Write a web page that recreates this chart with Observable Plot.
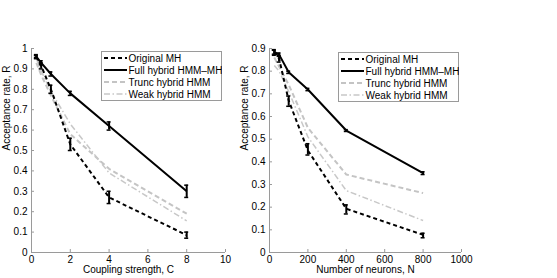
<!DOCTYPE html>
<html><head><meta charset="utf-8">
<script src="https://cdn.jsdelivr.net/npm/d3@7"></script>
<script src="https://cdn.jsdelivr.net/npm/@observablehq/plot@0.6"></script>
<style>
body{margin:0;background:#fff}
#wrap{position:relative;width:557px;height:278px;overflow:hidden;font-family:"Liberation Sans",Arial,Helvetica,sans-serif}
.panel{position:absolute;top:0}
.legend{position:absolute}
</style></head>
<body><div id="wrap"></div>
<script>
// ---- data ----
const seriesNames = ["Original MH", "Full hybrid HMM–MH", "Trunc hybrid HMM", "Weak hybrid HMM"];

const couplingC = [0.25, 0.5, 1, 2, 4, 8];
const leftOriginal = [0.96, 0.915, 0.80, 0.53, 0.27, 0.085];
const leftFull     = [0.96, 0.93, 0.875, 0.78, 0.62, 0.30];
const leftTrunc    = [0.93, 0.87, 0.77, 0.58, 0.41, 0.19];
const leftWeak     = [0.95, 0.89, 0.79, 0.63, 0.39, 0.155];
const leftOriginalLo = [0.95, 0.90, 0.78, 0.50, 0.24, 0.07];
const leftOriginalHi = [0.97, 0.93, 0.82, 0.56, 0.30, 0.10];
const leftFullLo     = [0.955, 0.92, 0.865, 0.77, 0.60, 0.27];
const leftFullHi     = [0.965, 0.94, 0.885, 0.79, 0.64, 0.33];

const neuronsN = [25, 50, 100, 200, 400, 800];
const rightOriginal = [0.885, 0.855, 0.67, 0.45, 0.193, 0.078];
const rightFull     = [0.885, 0.873, 0.795, 0.719, 0.538, 0.35];
const rightTrunc    = [0.86, 0.82, 0.74, 0.55, 0.344, 0.262];
const rightWeak     = [0.825, 0.80, 0.71, 0.51, 0.273, 0.141];
const rightOriginalLo = [0.87, 0.84, 0.645, 0.43, 0.17, 0.065];
const rightOriginalHi = [0.895, 0.87, 0.69, 0.48, 0.21, 0.085];
const rightFullLo     = [0.875, 0.865, 0.79, 0.714, 0.534, 0.344];
const rightFullHi     = [0.892, 0.88, 0.80, 0.724, 0.542, 0.356];

const leftXTicks = [0, 2, 4, 6, 8, 10];
const leftYTicks = [0, 0.1, 0.2, 0.3, 0.4, 0.5, 0.6, 0.7, 0.8, 0.9, 1];
const rightXTicks = [0, 200, 400, 600, 800, 1000];
const rightYTicks = [0, 0.1, 0.2, 0.3, 0.4, 0.5, 0.6, 0.7, 0.8, 0.9];

const yLabel = "Acceptance rate, R";
const leftXLabel = "Coupling strength, C";
const rightXLabel = "Number of neurons, N";

// ---- styles ----
const styles = [
  {stroke: "#000", width: 2, dash: "4,3"},
  {stroke: "#000", width: 2, dash: null},
  {stroke: "#c4c4c4", width: 2, dash: "5,3"},
  {stroke: "#c8c8c8", width: 1.5, dash: "6,2.5,1.5,2.5"}
];
const axisGray = "#9a9a9a";
const font = "'Liberation Sans', Arial, Helvetica, sans-serif";

function panel(cfg) {
  const marks = [];
  const [x0] = cfg.xDomain, [y0] = cfg.yDomain;
  // axes lines
  marks.push(Plot.ruleY([y0], {stroke: axisGray, strokeWidth: 1}));
  marks.push(Plot.ruleX([x0], {stroke: axisGray, strokeWidth: 1}));
  // inward ticks
  marks.push(Plot.ruleX(cfg.xTicks, {x: d => d, y1: y0, y2: y0, insetTop: -3, stroke: axisGray}));
  marks.push(Plot.ruleY(cfg.yTicks, {y: d => d, x1: x0, x2: x0, insetRight: -3, stroke: axisGray}));
  marks.push(Plot.axisX(cfg.xTicks, {label: null, tickSize: 0, tickPadding: 3, tickFormat: d => String(d), fontSize: 10, fill: "#000"}));
  marks.push(Plot.axisY(cfg.yTicks, {label: null, tickSize: 0, tickPadding: 4, tickFormat: d => String(d), fontSize: 10, fill: "#000"}));
  // lines (draw gray first, black on top)
  [2, 3, 0, 1].forEach(i => {
    const rows = cfg.xs.map((x, j) => ({x, y: cfg.series[i][j]}));
    marks.push(Plot.line(rows, {x: "x", y: "y", stroke: styles[i].stroke, strokeWidth: styles[i].width,
      strokeDasharray: styles[i].dash, strokeLinejoin: "miter", strokeLinecap: "butt"}));
  });
  // error bars
  cfg.errs.forEach(([lo, hi]) => {
    const rows = cfg.xs.map((x, j) => ({x, lo: lo[j], hi: hi[j]}));
    marks.push(Plot.ruleX(rows, {x: "x", y1: "lo", y2: "hi", stroke: "#000", strokeWidth: 2}));
    marks.push(Plot.ruleY(rows, {y: "lo", x1: "x", x2: "x", insetLeft: -2, insetRight: -2, stroke: "#000", strokeWidth: 1.5}));
    marks.push(Plot.ruleY(rows, {y: "hi", x1: "x", x2: "x", insetLeft: -2, insetRight: -2, stroke: "#000", strokeWidth: 1.5}));
  });
  // axis labels
  marks.push(Plot.text([cfg.xLabel], {text: d => d, frameAnchor: "bottom", dy: 20, fontSize: 10, fill: "#000"}));
  marks.push(Plot.text([yLabel], {text: d => d, frameAnchor: "left", rotate: -90, dx: -25, fontSize: 10, fill: "#000"}));

  const svg = Plot.plot({
    width: cfg.width, height: 278,
    marginLeft: cfg.marginLeft, marginRight: cfg.marginRight, marginTop: 48, marginBottom: 26,
    x: {domain: cfg.xDomain}, y: {domain: cfg.yDomain},
    style: {fontFamily: font, fontSize: "10px", color: "#000", background: "transparent", overflow: "visible"},
    marks
  });
  svg.classList.add("panel");
  svg.style.left = cfg.left + "px";
  return svg;
}

function legend(left, top) {
  const w = 120, h = 49, rowH = 12;
  const div = document.createElement("div");
  div.className = "legend";
  div.style.left = left + "px"; div.style.top = top + "px";
  const svg = d3.select(div).append("svg").attr("width", w + 1).attr("height", h + 1);
  svg.append("rect").attr("x", 0.5).attr("y", 0.5).attr("width", w).attr("height", h)
    .attr("fill", "#fff").attr("stroke", axisGray);
  seriesNames.forEach((name, i) => {
    const cy = 7 + i * rowH;
    svg.append("line").attr("x1", 3).attr("x2", 26).attr("y1", cy).attr("y2", cy)
      .attr("stroke", styles[i].stroke).attr("stroke-width", styles[i].width)
      .attr("stroke-dasharray", styles[i].dash);
    svg.append("text").attr("x", 27.5).attr("y", cy).attr("dy", "0.35em")
      .attr("font-size", 10).attr("font-family", font).attr("fill", "#000").text(name);
  });
  return div;
}

const wrap = document.getElementById("wrap");
wrap.appendChild(panel({
  xs: couplingC, series: [leftOriginal, leftFull, leftTrunc, leftWeak],
  errs: [[leftOriginalLo, leftOriginalHi], [leftFullLo, leftFullHi]],
  xDomain: [0, 10], yDomain: [0, 1], xTicks: leftXTicks, yTicks: leftYTicks,
  xLabel: leftXLabel, width: 240, marginLeft: 31, marginRight: 15, left: 0
}));
wrap.appendChild(panel({
  xs: neuronsN, series: [rightOriginal, rightFull, rightTrunc, rightWeak],
  errs: [[rightOriginalLo, rightOriginalHi], [rightFullLo, rightFullHi]],
  xDomain: [0, 1000], yDomain: [0, 0.9], xTicks: rightXTicks, yTicks: rightYTicks,
  xLabel: rightXLabel, width: 317, marginLeft: 29, marginRight: 96, left: 240
}));
wrap.appendChild(legend(100.5, 50.5));
wrap.appendChild(legend(337.5, 52));
</script>
</body></html>
